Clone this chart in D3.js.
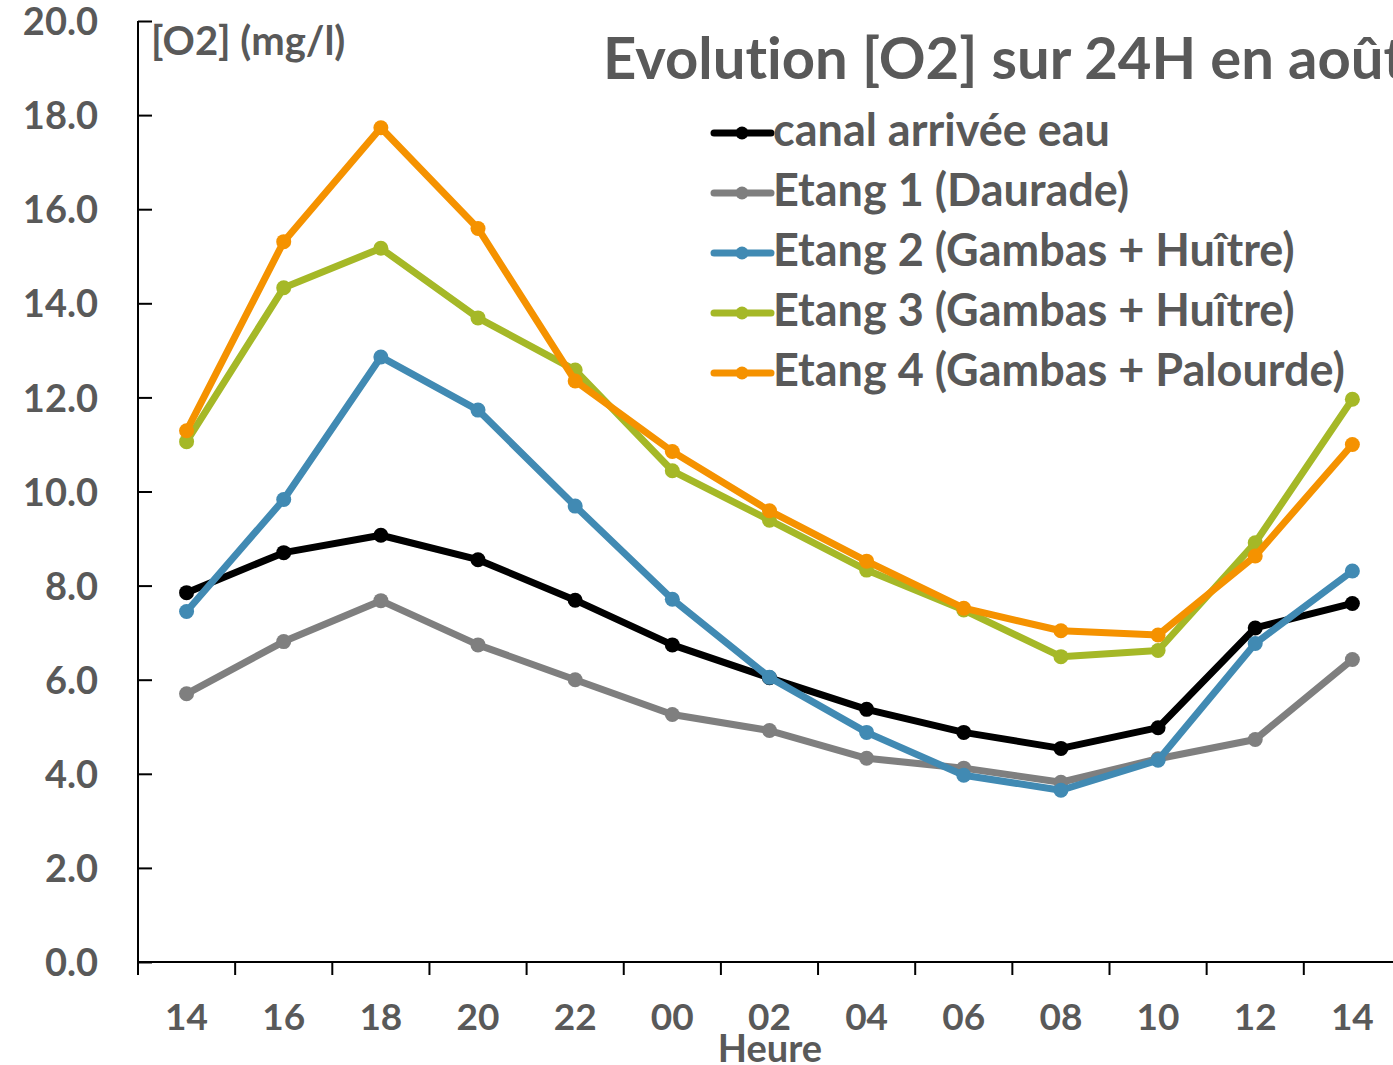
<!DOCTYPE html>
<html>
<head>
<meta charset="utf-8">
<script src="https://cdn.jsdelivr.net/npm/d3@7"></script>
<style>
  html, body { margin: 0; padding: 0; background: #fff; overflow: hidden; }
  svg text { font-family: Lato, "Open Sans", sans-serif; font-weight: bold; fill: #595959;
             font-variant-ligatures: none; font-feature-settings: "liga" 0; }
</style>
</head>
<body>
<svg id="chart" width="1393" height="1065"></svg>
<script>
// heures de mesure (14h -> 14h le lendemain)
var heures = ["14","16","18","20","22","00","02","04","06","08","10","12","14"];

var canal  = [7.85, 8.70, 9.07, 8.55, 7.69, 6.74, 6.04, 5.37, 4.88, 4.54, 4.98, 7.10, 7.62];
var etang1 = [5.70, 6.81, 7.68, 6.74, 6.00, 5.26, 4.92, 4.33, 4.12, 3.82, 4.32, 4.73, 6.43];
var etang2 = [7.45, 9.83, 12.86, 11.73, 9.69, 7.71, 6.05, 4.88, 3.97, 3.65, 4.29, 6.77, 8.31];
var etang3 = [11.06, 14.33, 15.17, 13.69, 12.58, 10.44, 9.39, 8.33, 7.48, 6.49, 6.62, 8.91, 11.96];
var etang4 = [11.29, 15.31, 17.73, 15.59, 12.35, 10.85, 9.59, 8.52, 7.52, 7.04, 6.95, 8.63, 11.00];

var series = [
  {nom: "canal arrivée eau",            couleur: "#000000", val: canal},
  {nom: "Etang 1 (Daurade)",            couleur: "#7f7f7f", val: etang1},
  {nom: "Etang 2 (Gambas + Huître)",    couleur: "#418ab3", val: etang2},
  {nom: "Etang 3 (Gambas + Huître)",    couleur: "#a5b827", val: etang3},
  {nom: "Etang 4 (Gambas + Palourde)",  couleur: "#f59200", val: etang4}
];

var yTicks = [0, 2, 4, 6, 8, 10, 12, 14, 16, 18, 20];

var svg = d3.select("#chart");
var x0 = 138, step = 97.15;
var yTop = 21, yBot = 962;

var x = d3.scaleBand()
  .domain(d3.range(heures.length))
  .range([x0, x0 + step * heures.length])
  .paddingInner(0).paddingOuter(0);

var y = d3.scaleLinear().domain([0, 20]).range([yBot, yTop]);

// axe Y
var yAxis = svg.append("g").attr("transform", "translate(" + x0 + ",0)")
  .call(d3.axisRight(y).tickValues(yTicks).tickSize(14).tickFormat(d3.format(".1f")));
yAxis.select(".domain").attr("stroke", "#000").attr("stroke-width", 2).attr("d", "M0," + yTop + "V" + yBot);
yAxis.selectAll(".tick line").attr("stroke", "#000").attr("stroke-width", 2);
yAxis.selectAll(".tick text")
  .attr("x", -40).attr("dy", "0.36em")
  .attr("text-anchor", "end")
  .style("font-size", "38px").style("fill", "#595959");

// axe X : traits aux limites des categories
var xg = svg.append("g");
xg.append("line").attr("x1", x0).attr("x2", 1393).attr("y1", yBot).attr("y2", yBot)
  .attr("stroke", "#000").attr("stroke-width", 2);
xg.selectAll(".xt").data(d3.range(heures.length + 1)).enter().append("line")
  .attr("x1", function(i) { return x0 + i * x.bandwidth(); })
  .attr("x2", function(i) { return x0 + i * x.bandwidth(); })
  .attr("y1", yBot).attr("y2", yBot + 13)
  .attr("stroke", "#000").attr("stroke-width", 2);
xg.selectAll(".xl").data(heures).enter().append("text")
  .attr("x", function(d, i) { return x(i) + x.bandwidth() / 2; })
  .attr("y", 1030)
  .attr("text-anchor", "middle")
  .style("font-size", "37px")
  .text(function(d) { return d; });

svg.append("text").attr("x", 770).attr("y", 1062).attr("text-anchor", "middle")
  .style("font-size", "38px").text("Heure");
svg.append("text").attr("x", 151).attr("y", 55)
  .style("font-size", "40px").text("[O2] (mg/l)");

// titre (coupé a droite comme sur l'original)
svg.append("text").attr("x", 603).attr("y", 79)
  .style("font-size", "58px").text("Evolution [O2] sur 24H en août");

// courbes
var line = d3.line()
  .x(function(d, i) { return x(i) + x.bandwidth() / 2; })
  .y(function(d) { return y(d); });

series.forEach(function(s) {
  var g = svg.append("g");
  g.append("path").datum(s.val)
    .attr("d", line).attr("fill", "none")
    .attr("stroke", s.couleur).attr("stroke-width", 7)
    .attr("stroke-linejoin", "round");
  g.selectAll("circle").data(s.val).enter().append("circle")
    .attr("cx", function(d, i) { return x(i) + x.bandwidth() / 2; })
    .attr("cy", function(d) { return y(d); })
    .attr("r", 7.5).attr("fill", s.couleur);
});

// legende
var leg = svg.append("g");
series.forEach(function(s, i) {
  var ly = 133 + i * 60;
  leg.append("line").attr("x1", 714).attr("x2", 771).attr("y1", ly).attr("y2", ly)
    .attr("stroke", s.couleur).attr("stroke-width", 7).attr("stroke-linecap", "round");
  leg.append("circle").attr("cx", 742).attr("cy", ly).attr("r", 6.5).attr("fill", s.couleur);
  leg.append("text").attr("x", 773).attr("y", ly + 13)
    .style("font-size", "45px").text(s.nom);
});
</script>
</body>
</html>
